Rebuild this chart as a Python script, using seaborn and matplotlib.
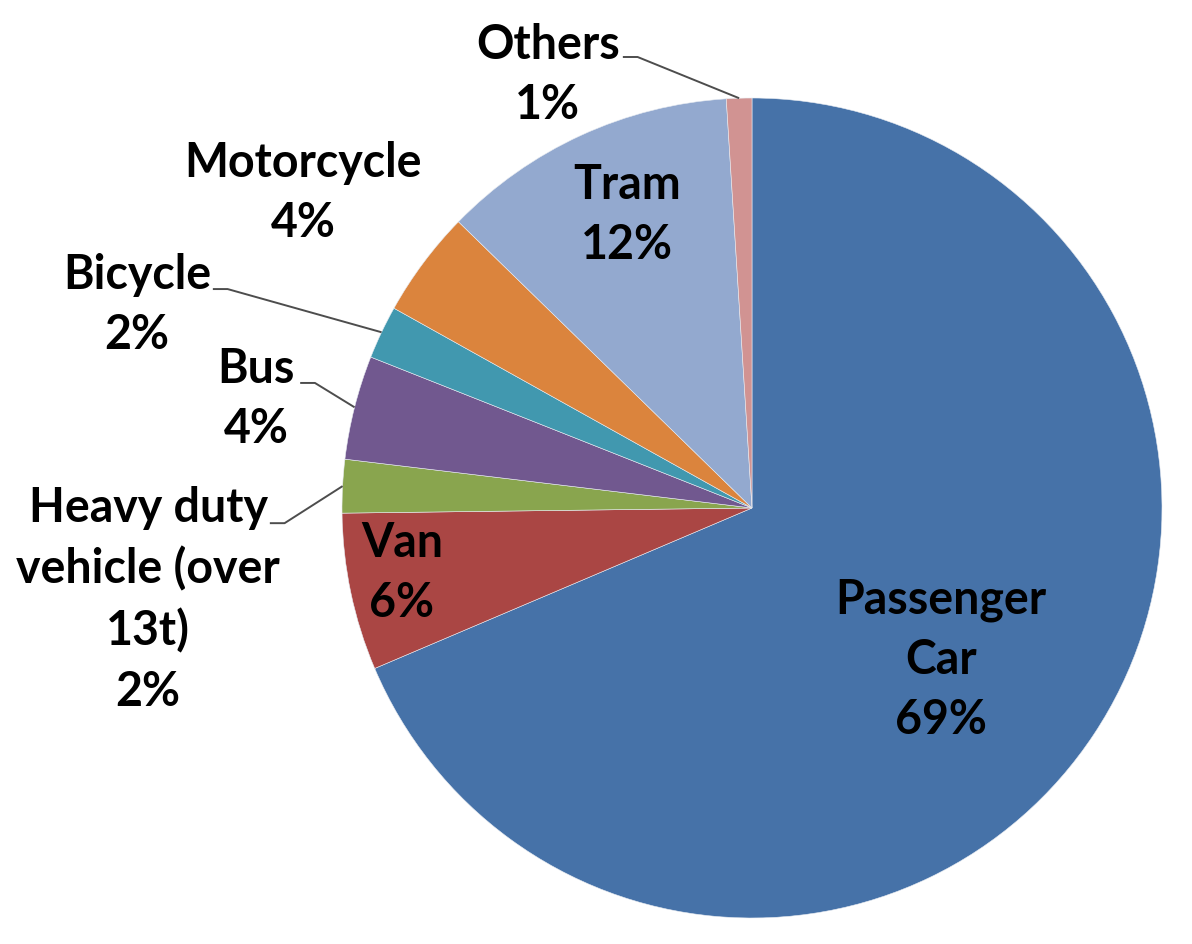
import numpy as np
import matplotlib
matplotlib.use("Agg")
import matplotlib.pyplot as plt
import seaborn as sns

# shares of trips by mode (percent)
modes = ["Passenger\nCar", "Van", "Heavy duty\nvehicle (over\n13t)", "Bus",
         "Bicycle", "Motorcycle", "Tram", "Others"]
shares = [68.6, 6.2, 2.1, 4.1, 2.1, 4.2, 11.7, 1.0]
colors = ["#4672A8", "#AA4644", "#89A54E", "#71588F",
          "#4198AF", "#DB843D", "#93A9CF", "#D19392"]

# label centres (pie radius = 1) and leader line starts for outside labels
label_pos = [(0.461, -0.371), (-0.854, -0.159), (-1.473, -0.224), (-1.21, 0.266),
             (-1.50, 0.495), (-1.095, 0.768), (-0.305, 0.715), (-0.498, 1.056)]
leader_start = {2: (-1.176, -0.037), 3: (-1.102, 0.305),
                4: (-1.315, 0.534), 7: (-0.315, 1.100)}

sns.set_theme(style="white")
plt.rcParams["font.family"] = ["Lato", "DejaVu Sans"]

fig = plt.figure(figsize=(11.92, 9.44), dpi=100)
ax = fig.add_axes([0, 0, 1, 1])

wedges, _ = ax.pie(shares, colors=sns.color_palette(colors), startangle=90,
                   counterclock=False, radius=1.0,
                   wedgeprops=dict(edgecolor="#e8ecf2", linewidth=0.4))

for i, (name, v) in enumerate(zip(modes, shares)):
    x, y = label_pos[i]
    ax.text(x, y, f"{name}\n{round(v):.0f}%", ha="center", va="center",
            fontsize=33.5, fontweight="bold", color="black", linespacing=1.45)
    if i in leader_start:
        w = wedges[i]
        mid = np.deg2rad((w.theta1 + w.theta2) / 2)
        ex, ey = np.cos(mid), np.sin(mid)
        sx, sy = leader_start[i]
        ax.plot([sx, sx + 0.036, ex], [sy, sy, ey], color="#4d4d4d", lw=1.4,
                solid_capstyle="butt")

ax.set_xlim(-752 / 410, (1192 - 752) / 410)
ax.set_ylim(-(944 - 508) / 410, 508 / 410)
ax.set_aspect("equal", adjustable="box")
ax.axis("off")

fig.savefig("out.png", dpi=100, facecolor="white")
